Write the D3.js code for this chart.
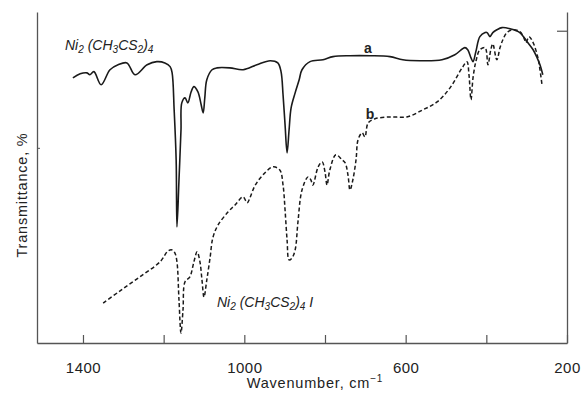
<!DOCTYPE html>
<html>
<head>
<meta charset="utf-8">
<script src="https://cdn.jsdelivr.net/npm/d3@7"></script>
<style>
  body { margin: 0; background: #fff; }
  svg { font-family: "Liberation Sans", Arial, sans-serif; }
</style>
</head>
<body>
<svg id="chart" width="583" height="394"></svg>
<script>
// wavenumber (cm-1) and transmittance (arbitrary %)
const waveA = [1425,1407,1390,1383,1373,1355,1333,1313,1291,1271,1241,1217,1197,1184,1179,1174,1169,1167,1162,1157,1155,1147,1140,1132,1125,1115,1107,1102,1098,1093,1080,1068,1036,1003,969,936,917,909,904,899,894,889,884,874,864,857,837,805,780,738,688,639,607,565,510,478,453,446,438,433,426,416,403,398,391,384,374,361,341,317,299,284,274,267,260];
const transA = [84.9,86.2,86.5,85.9,86.9,82.7,87.5,89.1,89.7,85.9,89.1,90.1,89.7,88.5,86.5,74.7,58.7,37.2,52.2,68.3,76.9,78.5,76.9,80.4,82.1,80.4,76.3,73.7,78.5,84.3,87.5,88.1,88.1,87.5,89.1,90.4,89.7,86.9,79.5,69.9,60.9,68.3,75.3,80.1,84.3,87.5,90.1,90.7,91.7,92.0,92.0,91.7,90.7,90.4,90.7,92.3,94.6,93.9,91.3,90.1,93.3,98.1,99.4,99.4,98.1,99.4,100.3,101.0,100.6,99.4,96.5,93.9,91.3,89.1,85.9];

const waveB = [1350,1308,1259,1209,1189,1179,1172,1167,1162,1157,1152,1147,1135,1125,1117,1110,1105,1100,1093,1085,1078,1065,1040,1023,1003,993,986,974,954,929,912,904,899,894,889,882,874,867,857,842,835,830,817,807,800,795,788,773,758,750,743,738,731,723,718,708,701,693,676,639,597,557,522,490,460,448,443,438,433,426,416,403,396,389,384,374,366,359,349,334,317,307,302,294,284,272,267,262];
const transB = [12.8,16.7,21.2,26.0,29.5,29.8,28.8,26.0,13.8,3.2,10.6,19.6,21.2,26.0,29.2,26.0,20.2,14.7,20.2,27.2,33.7,37.8,42.0,44.2,46.8,44.9,46.5,50.3,53.8,56.4,55.4,50.6,42.6,33.0,26.6,27.2,29.8,38.8,49.0,53.2,52.2,50.6,56.4,58.0,54.8,50.6,55.4,60.3,58.7,57.7,53.8,49.0,52.2,58.7,65.1,67.3,66.0,70.5,71.8,72.4,72.4,74.7,77.2,81.7,88.1,90.1,85.9,77.9,84.9,90.1,93.9,94.6,89.1,93.9,95.8,90.7,94.6,97.1,99.4,100.3,99.7,97.8,96.2,98.1,96.2,91.3,87.5,82.7];

const xTicks = [1400, 1200, 1000, 800, 600, 400, 200];
const xTickLabels = [1400, 1000, 600, 200];

const svg = d3.select("#chart");

const x = d3.scaleLinear().domain([1514, 200]).range([37, 567]);
const y = d3.scaleLinear().domain([0, 106]).range([343, 12]);

const axisColor = "#555";

// bottom axis, ticks pointing inward
const gx = svg.append("g")
  .attr("transform", "translate(0,343)")
  .call(d3.axisBottom(x).tickValues(xTicks).tickSizeInner(-8).tickSizeOuter(0)
    .tickFormat(d => xTickLabels.includes(d) ? d : ""));
gx.select(".domain").attr("stroke", axisColor).attr("stroke-width", 1.3);
gx.selectAll(".tick line").attr("stroke", axisColor).attr("stroke-width", 1.2);
gx.selectAll(".tick text")
  .attr("y", 19).attr("fill", "#222")
  .style("font-size", "15px")
  .style("letter-spacing", "0.5px");

// left axis
const gy = svg.append("g")
  .attr("transform", "translate(37,0)")
  .call(d3.axisLeft(y).tickValues([62.5]).tickSizeInner(-3).tickSizeOuter(0).tickFormat(""));
gy.select(".domain").attr("stroke", axisColor).attr("stroke-width", 1.3);
gy.selectAll(".tick line").attr("stroke", axisColor);

// right axis
const gr = svg.append("g")
  .attr("transform", "translate(567,0)")
  .call(d3.axisRight(y).tickValues([100]).tickSizeInner(-10).tickSizeOuter(0).tickFormat(""));
gr.select(".domain").attr("stroke", axisColor).attr("stroke-width", 1.3);
gr.selectAll(".tick line").attr("stroke", axisColor).attr("stroke-width", 1.2);

// axis titles
svg.append("text")
  .attr("x", 315).attr("y", 388)
  .attr("text-anchor", "middle")
  .attr("fill", "#222")
  .style("font-size", "14.5px")
  .style("letter-spacing", "0.8px")
  .html('Wavenumber, cm<tspan dy="-6" font-size="10">−1</tspan>');

svg.append("text")
  .attr("transform", "translate(27,195) rotate(-90)")
  .attr("text-anchor", "middle")
  .attr("fill", "#222")
  .style("font-size", "14.5px")
  .style("letter-spacing", "0.8px")
  .text("Transmittance, %");

// spectra
const line = d3.line()
  .x(d => x(d[0]))
  .y(d => y(d[1]))
  .curve(d3.curveCatmullRom.alpha(0.5));

svg.append("path")
  .datum(d3.zip(waveA, transA))
  .attr("fill", "none")
  .attr("stroke", "#1a1a1a")
  .attr("stroke-width", 1.6)
  .attr("d", line);

svg.append("path")
  .datum(d3.zip(waveB, transB))
  .attr("fill", "none")
  .attr("stroke", "#1a1a1a")
  .attr("stroke-width", 1.5)
  .attr("stroke-dasharray", "4,2.5")
  .attr("d", line);

// curve labels
function formula(xp, yp, withI) {
  const t = svg.append("text")
    .attr("x", xp).attr("y", yp)
    .attr("fill", "#222")
    .style("font-size", "14px")
    .style("font-style", "italic");
  const parts = [["Ni", 0], ["2", 1], [" (CH", 0], ["3", 1], ["CS", 0], ["2", 1], [")", 0], ["4", 1]];
  if (withI) parts.push([" I", 0]);
  let sub = false;
  parts.forEach(([s, isSub]) => {
    const dy = isSub && !sub ? 3 : (!isSub && sub ? -3 : 0);
    t.append("tspan").attr("dy", dy)
      .style("font-size", isSub ? "10px" : "14px")
      .text(s);
    sub = !!isSub;
  });
}
formula(65, 50, false);
formula(217, 307, true);

svg.append("text").attr("x", 368).attr("y", 53)
  .attr("text-anchor", "middle").attr("fill", "#222")
  .style("font-size", "14px").style("font-weight", "bold").text("a");
svg.append("text").attr("x", 370).attr("y", 119)
  .attr("text-anchor", "middle").attr("fill", "#222")
  .style("font-size", "14px").style("font-weight", "bold").text("b");
</script>
</body>
</html>
